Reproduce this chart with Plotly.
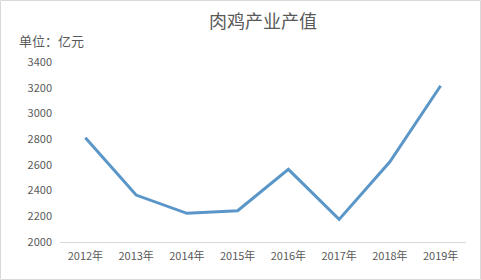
import plotly.graph_objects as go

years = ["2012年", "2013年", "2014年", "2015年", "2016年", "2017年", "2018年", "2019年"]
values = [2810, 2365, 2223, 2243, 2565, 2176, 2624, 3215]
y_ticks = [2000, 2200, 2400, 2600, 2800, 3000, 3200, 3400]

W, H = 481, 280
ML, MR, MT, MB = 60, 15, 62, 38
pw, ph = W - ML - MR, H - MT - MB

fig = go.Figure(go.Scatter(
    x=years, y=values, mode="lines",
    line=dict(color="#5b96c9", width=3),
    hoverinfo="x+y",
))

font_family = "Noto Sans CJK SC, Microsoft YaHei, sans-serif"
fig.update_layout(
    width=W, height=H,
    margin=dict(l=ML, r=MR, t=MT, b=MB),
    paper_bgcolor="white", plot_bgcolor="white",
    showlegend=False,
    font=dict(family=font_family, color="#595959", size=11),
    title=dict(text="肉鸡产业产值", x=0.5, xref="paper", y=1 - 22 / H, yanchor="middle",
               font=dict(size=18, color="#595959", family=font_family)),
    xaxis=dict(type="category", range=[-0.5, len(years) - 0.5], showgrid=False, zeroline=False,
               showline=True, linecolor="#d9d9d9", linewidth=1,
               ticks="", ticklabelstandoff=4, tickfont=dict(size=11, color="#595959")),
    yaxis=dict(range=[2000, 3400], tickvals=y_ticks, showgrid=False, zeroline=False,
               showline=False, ticks="", ticklabelstandoff=7,
               tickfont=dict(size=11, color="#595959")),
    annotations=[dict(text="单位：亿元", xref="paper", yref="paper",
                      x=-(ML - 17) / pw, y=1 + (MT - 41) / ph, xanchor="left", yanchor="middle",
                      showarrow=False, font=dict(size=13, color="#595959", family=font_family))],
    shapes=[dict(type="rect", xref="paper", yref="paper",
                 x0=-(ML - 0.5) / pw, x1=1 + (MR - 0.5) / pw,
                 y0=-(MB - 0.5) / ph, y1=1 + (MT - 0.5) / ph,
                 line=dict(color="#d9d9d9", width=1), layer="below")],
)

fig.write_html("out.html")
